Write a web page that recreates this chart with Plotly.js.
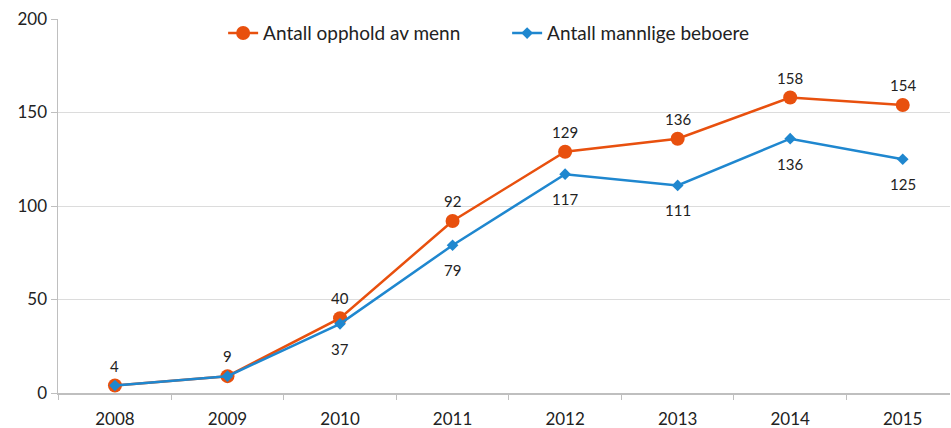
<!DOCTYPE html>
<html>
<head>
<meta charset="utf-8">
<script src="https://cdn.plot.ly/plotly-3.0.1.min.js"></script>
<style>html,body{margin:0;padding:0;background:#fff;}#chart{width:951px;height:428px;}</style>
</head>
<body>
<div id="chart"></div>
<script>
const years = ["2008","2009","2010","2011","2012","2013","2014","2015"];
const opphold = [4, 9, 40, 92, 129, 136, 158, 154];
const beboere = [4, 9, 37, 79, 117, 111, 136, 125];
const beboereLabels = ["", "", "37", "79", "117", "111", "136", "125"];
const seriesNames = ["Antall opphold av menn", "Antall mannlige beboere"];

const font = "Lato, 'Open Sans', sans-serif";
const traces = [
  {
    x: years, y: opphold, name: seriesNames[0], type: "scatter", mode: "lines+markers",
    line: {color: "#E8500E", width: 2.5},
    marker: {symbol: "circle", size: 14, color: "#E8500E"}, cliponaxis: false
  },
  {
    x: years, y: beboere, name: seriesNames[1], type: "scatter", mode: "lines+markers",
    line: {color: "#1F87CF", width: 2.5},
    marker: {symbol: "diamond", size: 9, color: "#1F87CF"}, cliponaxis: false
  }
];
const labelFont = {family: font, size: 15, color: "#222"};
const annotations = [];
years.forEach((yr, i) => {
  annotations.push({x: i, y: opphold[i], xref: "x", yref: "y", text: String(opphold[i]), showarrow: false,
    yshift: 20, yanchor: "middle", font: labelFont});
  if (beboereLabels[i]) annotations.push({x: i, y: beboere[i], xref: "x", yref: "y", text: beboereLabels[i], showarrow: false,
    yshift: -25, yanchor: "middle", font: labelFont});
});
const layout = {
  width: 951, height: 428,
  margin: {l: 58, r: 1, t: 19, b: 35},
  paper_bgcolor: "#fff", plot_bgcolor: "#fff",
  font: {family: font, size: 17, color: "#222"},
  showlegend: true,
  legend: {orientation: "h", x: 0.5035, xanchor: "center", y: 0.962, yanchor: "middle",
           entrywidth: 239, entrywidthmode: "pixels",
           font: {family: font, size: 19, color: "#222"}, bgcolor: "rgba(0,0,0,0)", tracegroupgap: 0},
  annotations: annotations,
  xaxis: {type: "category", range: [-0.506, 7.42], tickson: "boundaries", ticks: "outside", ticklen: 5,
          tickcolor: "#BFBFBF", showline: true, linecolor: "#BFBFBF", linewidth: 1.5, showgrid: false,
          zeroline: false, ticklabelstandoff: 10, tickfont: {family: font, size: 17, color: "#222"}},
  yaxis: {range: [0, 200], dtick: 50, ticks: "outside", ticklen: 6, tickcolor: "#BFBFBF",
          showline: true, linecolor: "#BFBFBF", linewidth: 1.5, gridcolor: "#DCDCDC", zeroline: false,
          tickfont: {family: font, size: 17, color: "#222"}}
};
Plotly.newPlot("chart", traces, layout, {displayModeBar: false, staticPlot: true});
</script>
</body>
</html>
